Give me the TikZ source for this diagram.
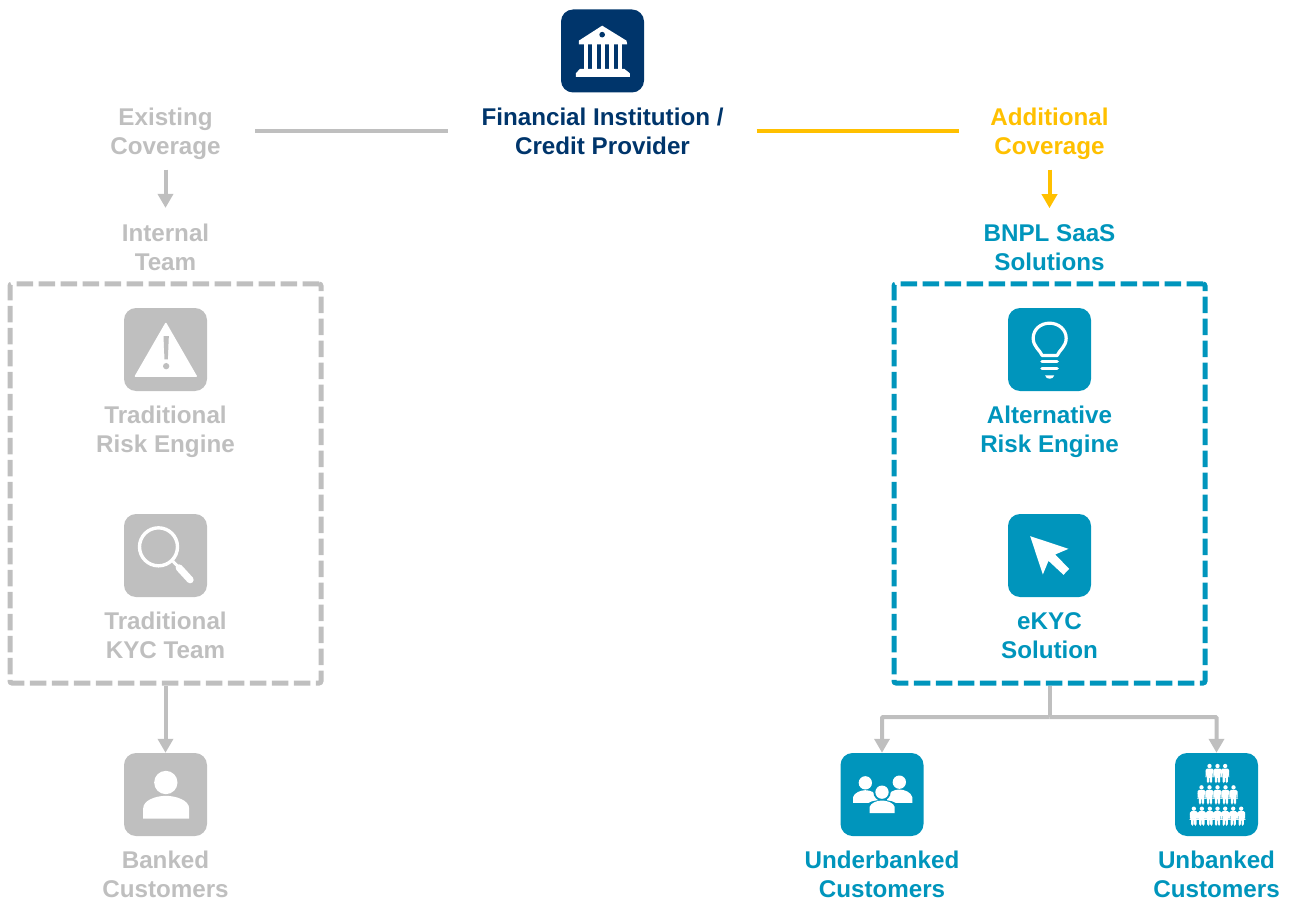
\documentclass[tikz,border=0pt]{standalone}
\usepackage{fontspec}
\setmainfont{Liberation Sans}
\usetikzlibrary{arrows.meta}
\definecolor{navy}{HTML}{00356B}
\definecolor{teal}{HTML}{0095BC}
\definecolor{gold}{HTML}{FFC000}
\definecolor{lgray}{HTML}{BFBFBF}
\tikzset{
  iconbox/.style={minimum width=83pt,minimum height=83pt,rounded corners=12pt,inner sep=0pt,fill=#1},
  lbl/.style={font=\fontsize{24.2pt}{29pt}\selectfont\bfseries,align=center,text=#1,inner sep=0pt},
  conn/.style={draw=#1,line width=4pt},
  arrowconn/.style={conn=#1,-{Triangle[width=15pt,length=14pt]}},
  dashbox/.style={draw=#1,line width=5pt,dash pattern=on 16.5pt off 5.5pt,rounded corners=2pt,minimum width=311pt,minimum height=399pt,inner sep=0pt},
  wl/.style={draw=white,line cap=round,line join=round},
}
\newcommand{\icon}[4]{\begin{scope}[shift={(#1)},x=0.3333pt,y=-0.3333pt,shift={(-#2,-#3)}]#4\end{scope}}
\newcommand{\tinyman}[2]{\begin{scope}[shift={(#1,#2)}]
  \fill[white] (0,6.5) circle[radius=6.5];
  \fill[white,rounded corners=1.5pt] (-12,14)--(12,14)--(12,40)--(9,40)--(9,24)--(8,24)--(8,58)--(1,58)--(1,38)--(-1,38)--(-1,58)--(-8,58)--(-8,24)--(-9,24)--(-9,40)--(-12,40)--cycle;
\end{scope}}
\begin{document}
\begin{tikzpicture}[x=1pt,y=-1pt]
\useasboundingbox (0,0) rectangle (1290,901);
% boxes
\node[dashbox=lgray] (lbox) at (165.5,483.5) {};
\node[dashbox=teal] (rbox) at (1049.5,483.5) {};
% icon tiles
\node[iconbox=navy] (bank) at (602.5,51) {};
\node[iconbox=lgray] (warn) at (165.5,349.5) {};
\node[iconbox=lgray] (mag) at (165.5,555.5) {};
\node[iconbox=lgray] (banked) at (165.5,794.5) {};
\node[iconbox=teal] (bulb) at (1049.5,349.5) {};
\node[iconbox=teal] (cursor) at (1049.5,555.5) {};
\node[iconbox=teal] (under) at (882,794.5) {};
\node[iconbox=teal] (unb) at (1216.5,794.5) {};
% labels
\node[lbl=navy] (fi) at (602.5,131.5) {Financial Institution /\\Credit Provider};
\node[lbl=lgray] (exist) at (165.5,133.5) {Existing\\Coverage};
\node[lbl=gold] (add) at (1049.5,133.5) {Additional\\Coverage};
\node[lbl=lgray] (team) at (165.5,247.5) {Internal\\Team};
\node[lbl=teal] (bnpl) at (1049.5,247.5) {BNPL SaaS\\Solutions};
\node[lbl=lgray] (trisk) at (165.5,431.5) {Traditional\\Risk Engine};
\node[lbl=lgray] (tkyc) at (165.5,635.5) {Traditional\\KYC Team};
\node[lbl=teal] (arisk) at (1049.5,431.5) {Alternative\\Risk Engine};
\node[lbl=teal] (ekyc) at (1049.5,635.5) {eKYC\\Solution};
\node[lbl=lgray] (bankedl) at (165.5,874.5) {Banked\\Customers};
\node[lbl=teal] (underl) at (882,874.5) {Underbanked\\Customers};
\node[lbl=teal] (unbl) at (1216.5,874.5) {Unbanked\\Customers};
% connectors
\draw[conn=lgray,shorten <=34.5pt,shorten >=33pt] (exist.east |- fi) -- (fi.west);
\draw[conn=gold,shorten <=33pt,shorten >=31.5pt] (fi.east) -- (add.west |- fi);
\draw[arrowconn=lgray,shorten <=10pt,shorten >=16pt] (exist) -- (team);
\draw[arrowconn=gold,shorten <=10pt,shorten >=16pt] (add) -- (bnpl);
\draw[arrowconn=lgray] (lbox.south) -- (banked.north);
\coordinate (junc) at (1049.5,717);
\draw[conn=lgray] (rbox.south) -- (junc);
\draw[arrowconn=lgray,rounded corners=1pt] (junc) -| (under.north);
\draw[arrowconn=lgray,rounded corners=1pt] (junc) -| (unb.north);
% bank glyph
\icon{bank}{156}{153}{
  \fill[white] (85,122)--(155,77)--(228,122)--(230,133)--(85,133)--cycle;
  \fill[navy] (155,104) circle[radius=8.5];
  \foreach \c in {100,125,151,176,202}{\fill[white] (\c,133) rectangle (\c+13,208);}
  \fill[white] (88,207)--(222,207)--(238,220)--(238,231)--(76,231)--(76,220)--cycle;
}
% warning glyph
\icon{warn}{164}{148}{
  \fill[white] (165,70)--(256,228)--(74,228)--cycle;
  \draw[wl,line width=1.5pt] (165,70)--(256,228)--(74,228)--cycle;
  \fill[lgray] (158,108)--(174,108)--(171,178)--(161,178)--cycle;
  \fill[lgray] (166,198) circle[radius=9.5];
}
% magnifier glyph
\icon{mag}{164}{151}{
  \draw[white,line width=3.4pt] (143,125) circle[radius=57];
  \draw[white,line width=3pt] (186,168)--(205,188);
  \draw[white,line width=7pt,line cap=round] (205,188)--(238,224);
}
% bulb glyph
\icon{bulb}{163}{148}{
  \draw[wl,line width=3.2pt] (141,166) .. controls (135,150) and (114,140) .. (114,114)
     .. controls (114,88) and (136,69) .. (163,69)
     .. controls (190,69) and (213,88) .. (213,114)
     .. controls (213,140) and (192,150) .. (186,166) -- cycle;
  \draw[wl,line width=3.2pt] (140,185)--(186,185);
  \draw[wl,line width=3.2pt] (140,206)--(186,206);
  \fill[white] (150,226) -- (177,226) .. controls (175,239) and (152,239) .. (150,226) -- cycle;
}
% cursor glyph
\icon{cursor}{163}{150}{
  \fill[white] (105,92)--(220,130)--(180,147)--(222,190)--(205,208)--(160,166)--(143,207)--cycle;
}
% group glyph
\icon{under}{155}{147}{
  \fill[white] (105,112) circle[radius=20];
  \fill[white] (207,110) circle[radius=20];
  \fill[white] (68,172)--(68,155) .. controls (72,142) and (90,134) .. (105,134) .. controls (120,134) and (138,142) .. (142,155)--(142,172)--cycle;
  \fill[white] (170,172)--(170,155) .. controls (174,140) and (192,132) .. (207,132) .. controls (222,132) and (242,140) .. (246,155)--(246,172)--cycle;
  \fill[teal] (155,140) circle[radius=26];
  \fill[teal] (108,210)--(108,180) .. controls (116,158) and (194,158) .. (203,180)--(203,210)--cycle;
  \fill[white] (155,140) circle[radius=20];
  \fill[white] (118,203)--(118,184) .. controls (122,172) and (140,165) .. (155,165) .. controls (170,165) and (190,172) .. (193,184)--(193,203)--cycle;
}
% crowd glyph
\icon{unb}{154}{147}{
  \foreach \c in {133,157,180}{\tinyman{\c}{55}}
  \foreach \c in {109,133,157,181,205}{\tinyman{\c}{119}}
  \foreach \c in {86,110,134,157,180,204,228}{\tinyman{\c}{183}}
}
% person glyph
\icon{banked}{164}{148}{
  \fill[white] (165,112) circle[radius=35];
  \fill[white] (97,220)--(97,190) .. controls (97,165) and (135,152) .. (165,152) .. controls (195,152) and (235,165) .. (235,190)--(235,220)--cycle;
}
\end{tikzpicture}
\end{document}
